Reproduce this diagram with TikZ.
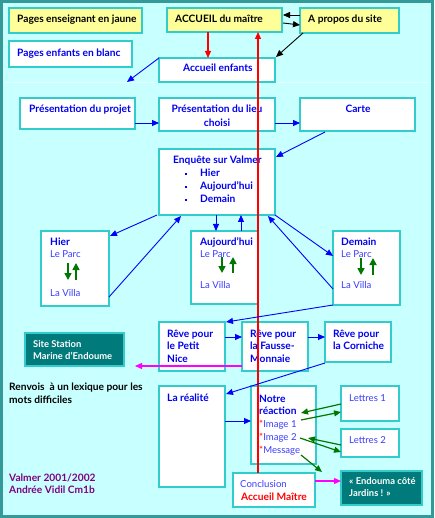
\documentclass[tikz,border=0pt]{standalone}
\usepackage{fontspec}
\setmainfont{Lato}
\usetikzlibrary{arrows.meta,calc}
\definecolor{bgc}{RGB}{200,255,255}
\definecolor{framec}{RGB}{51,153,153}
\definecolor{boxc}{RGB}{51,204,204}
\definecolor{yel}{RGB}{255,255,153}
\definecolor{tealf}{RGB}{0,122,122}
\definecolor{txtb}{RGB}{0,0,240}
\definecolor{txtl}{RGB}{60,60,255}
\definecolor{grn}{RGB}{0,120,0}
\definecolor{purp}{RGB}{128,0,128}
\definecolor{mag}{RGB}{255,0,255}
\definecolor{sepc}{RGB}{228,255,255}
\begin{document}
\begin{tikzpicture}[x=1pt,y=-1pt,
  box/.style={draw=boxc,line width=2pt,fill=white,inner sep=0pt,outer sep=0pt,anchor=north west},
  ybox/.style={box,fill=yel},
  tbox/.style={box,fill=tealf},
  bt/.style={anchor=base west,inner sep=0pt,font=\fontsize{10.2}{12}\selectfont\bfseries},
  btb/.style={bt,text=txtb},
  btc/.style={btb,anchor=base},
  wt/.style={bt,text=white,font=\fontsize{9.4}{11}\selectfont\bfseries},
  rt/.style={anchor=base west,inner sep=0pt,font=\fontsize{9.6}{11}\selectfont,text=txtl},
  tip/.style={-{Triangle[length=7pt,width=6pt]}},
  barrow/.style={draw=blue,line width=0.9pt,tip},
  karrow/.style={draw=black,line width=0.9pt,tip},
  rarrow/.style={draw=red,line width=1.2pt,tip},
  marrow/.style={draw=mag,line width=1.2pt,tip},
  garrow/.style={draw=grn,line width=1.2pt,tip},
  gvarrow/.style={draw=grn,line width=1.6pt,-{Triangle[length=7pt,width=7pt]}}
]
\useasboundingbox (0,0) rectangle (434,518);
\fill[bgc] (0,0) rectangle (434,518);
\draw[framec,line width=3pt] (1.5,1.5) rectangle (432.5,516.5);
\draw[sepc,line width=1pt] (4,83) -- (430,83);

% boxes
\node[ybox,minimum width=133pt,minimum height=25pt] (yj) at (9,8) {};
\node[ybox,minimum width=115pt,minimum height=24pt] (accm) at (167,8) {};
\node[ybox,minimum width=99pt,minimum height=25pt] (apropos) at (300,8) {};
\node[box,minimum width=123pt,minimum height=26pt] (blanc) at (9,41) {};
\node[box,minimum width=116pt,minimum height=24pt] (accenf) at (159,58) {};
\node[box,minimum width=115pt,minimum height=31pt] (projet) at (20,98) {};
\node[box,minimum width=116pt,minimum height=33pt] (lieu) at (159,98) {};
\node[box,minimum width=115pt,minimum height=33pt] (carte) at (300,98) {};
\node[box,minimum width=116pt,minimum height=66pt] (enquete) at (159,149) {};
\node[box,minimum width=68pt,minimum height=75pt] (hier) at (41,231) {};
\node[box,minimum width=67pt,minimum height=73pt] (auj) at (191,231) {};
\node[box,minimum width=67pt,minimum height=74pt] (demain) at (333,231) {};
\node[tbox,minimum width=99pt,minimum height=33pt] (station) at (25,333) {};
\node[box,minimum width=66pt,minimum height=49pt] (petitnice) at (159,322) {};
\node[box,minimum width=66pt,minimum height=49pt] (fausse) at (242,322) {};
\node[box,minimum width=66pt,minimum height=40pt] (corniche) at (325,322) {};
\node[box,minimum width=66pt,minimum height=101pt] (realite) at (159,386) {};
\node[box,minimum width=65pt,minimum height=78pt] (reaction) at (251,386) {};
\node[box,minimum width=58pt,minimum height=35pt] (lettres1) at (341,386) {};
\node[box,minimum width=58pt,minimum height=28pt] (lettres2) at (341,429) {};
\node[box,minimum width=82pt,minimum height=34pt] (conclusion) at (233,473) {};
\node[tbox,minimum width=81pt,minimum height=34pt] (endouma) at (341,471) {};

% texts
\node[bt] (tyj) at (17,23) {Pages enseignant en jaune};
\node[bt] (taccm) at (175,23) {ACCUEIL du maître};
\node[bt] (tapropos) at (308,23) {A propos du site};
\node[btb] (tblanc) at (17,57) {Pages enfants en blanc};
\node[btb] (taccenf) at (183,72) {Accueil enfants};
\node[btb] (tprojet) at (29,113) {Présentation du projet};
\node[btc] (tlieu1) at (217,113) {Présentation du lieu};
\node[btc] (tlieu2) at (217,127) {choisi};
\node[btc] (tcarte) at (358,113) {Carte};
\node[btb] (tenq) at (173,164) {Enquête sur Valmer};
\node[btb] (tenq1) at (185,177) {\makebox[15pt][l]{\rule[2pt]{2.2pt}{2.2pt}}Hier};
\node[btb] (tenq2) at (185,190) {\makebox[15pt][l]{\rule[2pt]{2.2pt}{2.2pt}}Aujourd'hui};
\node[btb] (tenq3) at (185,203) {\makebox[15pt][l]{\rule[2pt]{2.2pt}{2.2pt}}Demain};
\node[btb] (thier) at (50,245) {Hier};
\node[rt] (thier1) at (50,257) {Le Parc};
\node[rt] (thier2) at (50,296) {La Villa};
\node[btb] (tauj) at (200,245) {Aujourd'hui};
\node[rt] (tauj1) at (200,257) {Le Parc};
\node[rt] (tauj2) at (200,288) {La Villa};
\node[btb] (tdem) at (341,245) {Demain};
\node[rt] (tdem1) at (341,257) {Le Parc};
\node[rt] (tdem2) at (341,288) {La Villa};
\node[wt] (tst1) at (33,347) {Site Station};
\node[wt] (tst2) at (33,359) {Marine d'Endoume};
\node[btb] (tpn1) at (167,337) {Rêve pour};
\node[btb] (tpn2) at (167,349) {le Petit};
\node[btb] (tpn3) at (167,362) {Nice};
\node[btb] (tfm1) at (250,337) {Rêve pour};
\node[btb] (tfm2) at (250,349) {la Fausse-};
\node[btb] (tfm3) at (250,362) {Monnaie};
\node[btb] (tco1) at (333,337) {Rêve pour};
\node[btb] (tco2) at (333,349) {la Corniche};
\node[bt] (tren1) at (9,390) {Renvois\ \ à un lexique pour les};
\node[bt] (tren2) at (9,403) {mots difficiles};
\node[btb] (treal) at (167,401) {La réalité};
\node[btb] (treac1) at (259,402) {Notre};
\node[btb] (treac2) at (259,414) {réaction};
\node[rt] (treac3) at (259,427) {\textcolor{red}{*}Image 1};
\node[rt] (treac4) at (259,440) {\textcolor{red}{*}Image 2};
\node[rt] (treac5) at (259,453) {\textcolor{red}{*}Message};
\node[rt] (tlet1) at (349,401) {Lettres 1};
\node[rt] (tlet2) at (349,443) {Lettres 2};
\node[rt] (tconc1) at (240,487) {Conclusion};
\node[bt,text=red] (tconc2) at (241,500) {Accueil Maître};
\node[wt] (tend1) at (349,484) {« Endouma côté};
\node[wt] (tend2) at (349,496) {Jardins ! »};
\node[bt,text=purp] (tval1) at (9,481) {Valmer 2001/2002};
\node[bt,text=purp] (tval2) at (9,493) {Andrée Vidil Cm1b};

% free ends
\coordinate (f1) at (127,82);
\coordinate (f2) at (135,366);

% black arrows
\draw[karrow] ($(apropos.north west)+(0,7)$) -- ($(accm.north east)+(1,7)$);
\draw[karrow] ($(accm.north east)+(1,15)$) -- ($(apropos.north west)+(0,17)$);
\draw[karrow] ($(apropos.south west)+(3,0)$) -- ($(accenf.north east)+(1,-1)$);

% red arrows
\draw[rarrow] ($(accm.south west)+(41,0)$) -- ($(accenf.north west)+(49,0)$);
\draw[rarrow] ($(conclusion.north west)+(25,0)$) -- ($(accm.south west)+(91,0)$);

% blue arrows
\draw[barrow] (accenf.north west) -- (f1);
\draw[barrow] ($(projet.north east)+(0,25)$) -- ($(lieu.north west)+(0,25)$);
\draw[barrow] ($(lieu.north east)+(0,25)$) -- ($(carte.north west)+(0,25)$);
\draw[barrow] ($(carte.south west)+(25,1)$) -- ($(enquete.north east)+(1,8)$);
\draw[barrow] ($(enquete.south west)+(-2,0)$) -- ($(hier.north east)+(1,5)$);
\draw[barrow] ($(hier.south east)+(0,-9)$) -- ($(enquete.south west)+(22,1)$);
\draw[barrow] ($(enquete.south west)+(57,0)$) -- ($(auj.north west)+(25,0)$);
\draw[barrow] ($(auj.north west)+(50,0)$) -- ($(enquete.south west)+(82,0)$);
\draw[barrow] (enquete.south east) -- ($(demain.north west)+(0,25)$);
\draw[barrow] ($(demain.north west)+(0,58)$) -- ($(enquete.south east)+(-7,1)$);
\draw[barrow] (demain.south west) -- ($(petitnice.north east)+(1,0)$);
\draw[barrow] ($(petitnice.north east)+(0,15)$) -- ($(fausse.north west)+(0,15)$);
\draw[barrow] ($(fausse.north east)+(0,15)$) -- ($(corniche.north west)+(0,15)$);
\draw[barrow] ($(corniche.south west)+(0,1)$) -- ($(realite.north east)+(1,8)$);
\draw[barrow] ($(realite.north east)+(0,35)$) -- ($(reaction.north west)+(0,35)$);

% magenta arrows
\draw[marrow] ($(fausse.south west)+(0,-5)$) -- (f2);
\draw[marrow] ($(conclusion.north east)+(0,8)$) -- ($(endouma.north west)+(0,10)$);

% green arrows
\draw[garrow] ($(lettres1.north west)+(0,18)$) -- ($(reaction.north west)+(50,27)$);
\draw[garrow] ($(reaction.north west)+(50,34)$) -- ($(lettres1.north west)+(0,26)$);
\draw[garrow] ($(lettres2.north west)+(0,16)$) -- ($(reaction.north west)+(57,52)$);
\draw[garrow] ($(reaction.north west)+(49,52)$) -- ($(lettres2.north west)+(0,23)$);
\draw[garrow] ($(reaction.north west)+(50,69)$) -- ($(conclusion.north east)+(7,-1)$);

% green vertical arrows in boxes
\draw[gvarrow] ($(hier.north west)+(27,32)$) -- ($(hier.north west)+(27,49)$);
\draw[gvarrow] ($(hier.north west)+(35,49)$) -- ($(hier.north west)+(35,32)$);
\draw[gvarrow] ($(auj.north west)+(31,26)$) -- ($(auj.north west)+(31,42)$);
\draw[gvarrow] ($(auj.north west)+(42,42)$) -- ($(auj.north west)+(42,26)$);
\draw[gvarrow] ($(demain.north west)+(28,27)$) -- ($(demain.north west)+(28,44)$);
\draw[gvarrow] ($(demain.north west)+(40,44)$) -- ($(demain.north west)+(40,27)$);
\end{tikzpicture}
\end{document}
